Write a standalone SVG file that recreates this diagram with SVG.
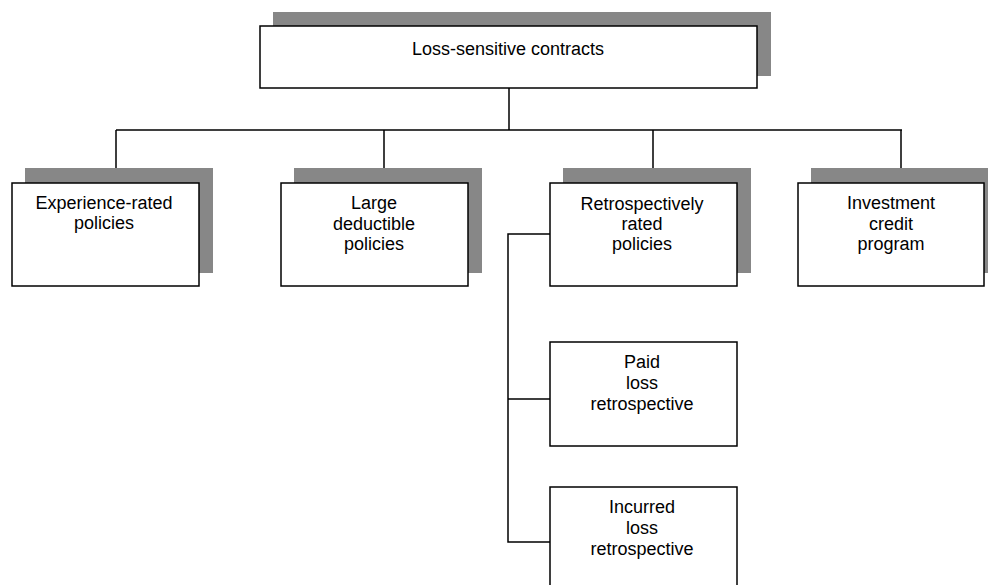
<svg xmlns="http://www.w3.org/2000/svg" width="988" height="585" viewBox="0 0 988 585">
<style>
.sh{fill:#878787;stroke:none}
.bx{fill:#fff;stroke:#000;stroke-width:1.5}
.t{font-family:"Liberation Sans",Arial,sans-serif;font-size:18px;fill:#000;text-anchor:middle}
.c{fill:none;stroke:#000;stroke-width:1.5}
</style>
<rect width="988" height="585" fill="#fff"/>
<g id="connectors">
<path class="c" d="M509 88V130M116 130H902M116 130V168M384 130V168M653 130V168M901 130V168"/>
<path class="c" d="M550 234H508V542H550M508 399H550"/>
</g>
<g id="root">
<rect class="sh" x="273" y="12" width="498" height="64"/>
<rect class="bx" x="260" y="26" width="497" height="62"/>
<text class="t" x="508" y="55">Loss-sensitive contracts</text>
</g>
<g id="experience">
<rect class="sh" x="25" y="168" width="188" height="105"/>
<rect class="bx" x="12" y="183" width="187" height="103"/>
<text class="t" x="104" y="209">Experience-rated</text>
<text class="t" x="104" y="229">policies</text>
</g>
<g id="large">
<rect class="sh" x="294" y="168" width="188" height="105"/>
<rect class="bx" x="281" y="183" width="187" height="103"/>
<text class="t" x="374" y="209">Large</text>
<text class="t" x="374" y="230">deductible</text>
<text class="t" x="374" y="250">policies</text>
</g>
<g id="retro">
<rect class="sh" x="563" y="168" width="188" height="105"/>
<rect class="bx" x="550" y="183" width="187" height="103"/>
<text class="t" x="642" y="210">Retrospectively</text>
<text class="t" x="642" y="230">rated</text>
<text class="t" x="642" y="250">policies</text>
</g>
<g id="investment">
<rect class="sh" x="811" y="168" width="188" height="105"/>
<rect class="bx" x="798" y="183" width="186" height="103"/>
<text class="t" x="891" y="209">Investment</text>
<text class="t" x="891" y="230">credit</text>
<text class="t" x="891" y="250">program</text>
</g>
<g id="paid">
<rect class="bx" x="550" y="342" width="187" height="104"/>
<text class="t" x="642" y="368">Paid</text>
<text class="t" x="642" y="389">loss</text>
<text class="t" x="642" y="410">retrospective</text>
</g>
<g id="incurred">
<rect class="bx" x="550" y="487" width="187" height="110"/>
<text class="t" x="642" y="513">Incurred</text>
<text class="t" x="642" y="534">loss</text>
<text class="t" x="642" y="555">retrospective</text>
</g>
</svg>
